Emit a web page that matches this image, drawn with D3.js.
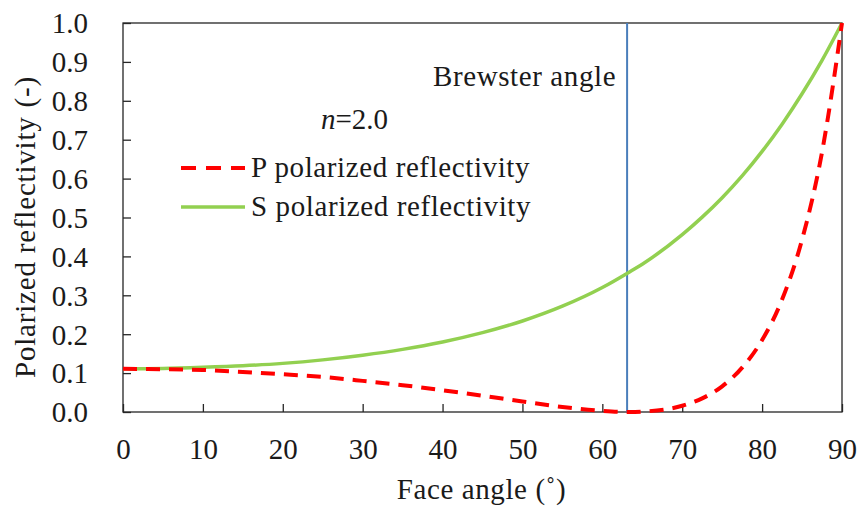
<!DOCTYPE html>
<html>
<head>
<meta charset="utf-8">
<script src="https://cdn.jsdelivr.net/npm/d3@7"></script>
<style>
  body { margin: 0; background: #fff; }
</style>
</head>
<body>
<div id="chart"></div>
<script>
// face angle (deg) and reflectivity of each polarisation, n = 2.0
const angles = [0, 5, 10, 15, 20, 25, 30, 35, 40, 45, 50, 55, 60, 63.4, 65, 70, 72.5, 75, 77.5, 80, 82.5, 85, 87.5, 90]
const pRefl = [0.111, 0.110, 0.108, 0.103, 0.097, 0.090, 0.080, 0.069, 0.056, 0.042, 0.027, 0.013, 0.003, 0.000, 0.001, 0.016, 0.035, 0.066, 0.114, 0.185, 0.289, 0.443, 0.668, 1.000]
const sRefl = [0.111, 0.112, 0.115, 0.119, 0.125, 0.134, 0.146, 0.161, 0.180, 0.204, 0.234, 0.272, 0.320, 0.360, 0.380, 0.456, 0.501, 0.551, 0.607, 0.670, 0.740, 0.818, 0.904, 1.000]
const brewster = 63.1

const xTicks = d3.range(0, 91, 10)
const yTicks = d3.range(0, 1.01, 0.1)

const FONT = '"Liberation Serif"'
const INK = '#1a1a1a'

const w = 861, h = 506
const margin = { top: 23, right: 19, bottom: 94, left: 123 }
const iw = w - margin.left - margin.right
const ih = h - margin.top - margin.bottom

const svg = d3.select('#chart').append('svg')
    .attr('width', w)
    .attr('height', h)

const g = svg.append('g')
    .attr('transform', `translate(${margin.left},${margin.top})`)

const x = d3.scaleLinear().domain([0, 90]).range([0, iw])
const y = d3.scaleLinear().domain([0, 1]).range([ih, 0])

// plot frame
g.append('rect')
    .attr('width', iw)
    .attr('height', ih)
    .attr('fill', 'none')
    .attr('stroke', '#262626')
    .attr('stroke-width', 1.3)

const xAxis = g.append('g')
    .attr('transform', `translate(0,${ih})`)
    .call(d3.axisBottom(x).tickValues(xTicks).tickSize(-8).tickPadding(26).tickFormat(d3.format('d')))
const yAxis = g.append('g')
    .call(d3.axisLeft(y).tickValues(yTicks).tickSize(-8).tickPadding(35).tickFormat(d3.format('.1f')))

;[xAxis, yAxis].forEach(a => {
    a.attr('font-family', null).attr('font-size', null)
    a.select('.domain').remove()
    a.selectAll('line').attr('stroke', '#262626').attr('stroke-width', 1.3)
    a.selectAll('text')
        .style('font-family', FONT)
        .style('font-size', '29px')
        .attr('fill', INK)
})
yAxis.selectAll('text').attr('dy', '0.34em')
xAxis.selectAll('text').attr('dy', '0.72em')

const line = d3.line().curve(d3.curveMonotoneX)

// Brewster angle marker
g.append('line')
    .attr('x1', x(brewster)).attr('x2', x(brewster))
    .attr('y1', 0).attr('y2', ih)
    .attr('stroke', '#4a7ebb')
    .attr('stroke-width', 2)

g.append('path')
    .attr('d', line(angles.map((a, i) => [x(a), y(sRefl[i])])))
    .attr('fill', 'none')
    .attr('stroke', '#92d050')
    .attr('stroke-width', 3.5)

g.append('path')
    .attr('d', line(angles.map((a, i) => [x(a), y(pRefl[i])])))
    .attr('fill', 'none')
    .attr('stroke', '#ff0000')
    .attr('stroke-width', 4)
    .attr('stroke-dasharray', '14,9')

const addText = (sel, str, spacing = 0.6) => sel.append('text')
    .style('font-family', FONT)
    .style('font-size', '29px')
    .style('letter-spacing', spacing + 'px')
    .attr('fill', INK)
    .text(str)

// legend
const legend = svg.append('g')
const items = [
    { label: 'P polarized reflectivity', color: '#ff0000', dash: '15,10', width: 4, y: 168 },
    { label: 'S polarized reflectivity', color: '#92d050', dash: null, width: 3.5, y: 207 }
]
items.forEach(d => {
    legend.append('line')
        .attr('x1', 181).attr('x2', 245)
        .attr('y1', d.y).attr('y2', d.y)
        .attr('stroke', d.color)
        .attr('stroke-width', d.width)
        .attr('stroke-dasharray', d.dash)
    addText(legend, d.label)
        .attr('x', 251).attr('y', d.y + 9)
})

const nLabel = addText(svg, null, 0)
    .attr('x', 321).attr('y', 129)
nLabel.append('tspan').style('font-style', 'italic').text('n')
nLabel.append('tspan').text('=2.0')

addText(svg, 'Brewster angle')
    .attr('x', 433).attr('y', 86)

// axis titles
addText(svg, 'Face angle (˚)')
    .attr('x', margin.left + iw / 2 - 1).attr('y', 499)
    .attr('text-anchor', 'middle')

const yTitle = addText(svg, null, 0.8)
    .attr('transform', `translate(35,227) rotate(-90)`)
    .attr('text-anchor', 'middle')
yTitle.append('tspan').text('Polarized reflectivity')
yTitle.append('tspan').attr('dx', 9).text('(-)')
</script>
</body>
</html>
